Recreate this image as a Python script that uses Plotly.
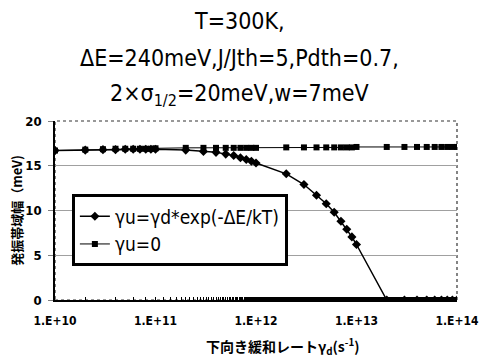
import plotly.graph_objects as go

# x values: 1..9 x 10^n, n = 10..13, plus 1e14
gamma_d = [m * 10.0 ** n for n in range(10, 14) for m in range(1, 10)] + [1e14]

series_exp_name = "γu=γd*exp(-ΔE/kT)"
series_exp = [
    16.7, 16.75, 16.8, 16.8, 16.85, 16.85, 16.85, 16.85, 16.85,   # 1e10..9e10
    16.85, 16.75, 16.6, 16.5, 16.3, 16.15, 15.9, 15.7, 15.5,      # 1e11..9e11
    15.3, 14.1, 12.9, 11.7, 10.75, 9.8, 8.8, 7.9, 7.05,           # 1e12..9e12
    6.2, 0, 0, 0, 0, 0, 0, 0, 0,                                  # 1e13..9e13
    0,                                                            # 1e14
]

series_zero_name = "γu=0"
series_zero = [
    16.7, 16.8, 16.85, 16.9, 16.9, 16.9, 16.9, 16.9, 16.9,
    16.95, 17.0, 17.0, 17.0, 17.0, 17.0, 17.0, 17.0, 17.0,
    17.0, 17.05, 17.05, 17.05, 17.05, 17.05, 17.05, 17.05, 17.05,
    17.1, 17.1, 17.1, 17.1, 17.1, 17.1, 17.1, 17.1, 17.1,
    17.1,
]

x_tickvals = [1e10, 1e11, 1e12, 1e13, 1e14]
x_ticktext = ["1.E+10", "1.E+11", "1.E+12", "1.E+13", "1.E+14"]
y_tickvals = [0, 5, 10, 15, 20]

title_lines = ["T=300K,", "ΔE=240meV,J/Jth=5,Pdth=0.7,", "2×σ<sub>1/2</sub>=20meV,w=7meV"]
x_title = "下向き緩和レートγ<sub>d</sub>(s<sup>-1</sup>)"
y_title = "発振帯域幅（meV)"

FONT = "Liberation Sans Narrow, DejaVu Sans Condensed, Liberation Sans, sans-serif"
JP = "Noto Sans CJK JP, sans-serif"

fig = go.Figure()
fig.add_trace(go.Scatter(
    x=gamma_d, y=series_exp, name=series_exp_name, mode="lines+markers",
    line=dict(color="black", width=1.5),
    marker=dict(symbol="diamond", size=7, color="black"),
))
fig.add_trace(go.Scatter(
    x=gamma_d, y=series_zero, name=series_zero_name, mode="lines+markers",
    line=dict(color="black", width=1),
    marker=dict(symbol="square", size=6, color="black"),
))

fig.update_layout(
    width=491, height=360,
    margin=dict(l=55, r=21, t=121, b=60),
    paper_bgcolor="white", plot_bgcolor="white",
    showlegend=True,
    legend=dict(
        x=0.042, y=0.59, xanchor="left", yanchor="top",
        bgcolor="white", bordercolor="black", borderwidth=3,
        font=dict(family=FONT, size=19, color="black"),
        itemwidth=30, tracegroupgap=0,
    ),
    xaxis=dict(
        type="log", range=[9.9999, 14.0001],
        tickvals=x_tickvals, ticktext=x_ticktext,
        tickfont=dict(family=FONT, size=12, color="black", weight="bold"),
        ticklabeloverflow="allow",
        showgrid=False, zeroline=False,
        showline=True, linecolor="black", linewidth=1.5,
        ticks="inside", ticklen=3, tickcolor="black",
        minor=dict(ticks="inside", ticklen=3, tickcolor="black", showgrid=False),
        ticklabelstandoff=9,
    ),
    yaxis=dict(
        range=[0, 20], tickvals=y_tickvals,
        tickfont=dict(family=FONT, size=13, color="black", weight="bold"),
        showgrid=True, gridcolor="#a0a0a0", gridwidth=1, zeroline=False,
        showline=True, linecolor="black", linewidth=1.5,
        ticks="outside", ticklen=5, tickcolor="#808080",
        ticklabelstandoff=4,
    ),
)

# dotted plot-area frame (top/right)
fig.add_shape(type="rect", xref="x domain", yref="y domain", x0=0, x1=1, y0=0, y1=1,
              line=dict(color="#333333", width=1.2, dash="dot"), layer="below")

# title lines
for txt, yy in zip(title_lines, [21, 58, 95]):
    fig.add_annotation(text=txt, xref="paper", yref="paper",
                       x=(245 - 55) / 415, y=1 + (121 - yy) / 179,
                       xanchor="center", yanchor="middle", showarrow=False,
                       font=dict(family=FONT, size=23, color="black"))

fig.add_annotation(text=x_title, xref="paper", yref="paper",
                   x=(290 - 55) / 415, y=-(346 - 300) / 179,
                   xanchor="center", yanchor="middle", showarrow=False,
                   font=dict(family=JP, size=14, color="black", weight="bold"))
fig.add_annotation(text=y_title, xref="paper", yref="paper",
                   x=-(55 - 15) / 415, y=0.5, textangle=-90,
                   xanchor="center", yanchor="middle", showarrow=False,
                   font=dict(family=JP, size=13, color="black", weight="bold"))

fig.write_html("out.html", config={"displayModeBar": False},
               post_script="document.body.style.margin='0';document.body.style.overflow='hidden';")
